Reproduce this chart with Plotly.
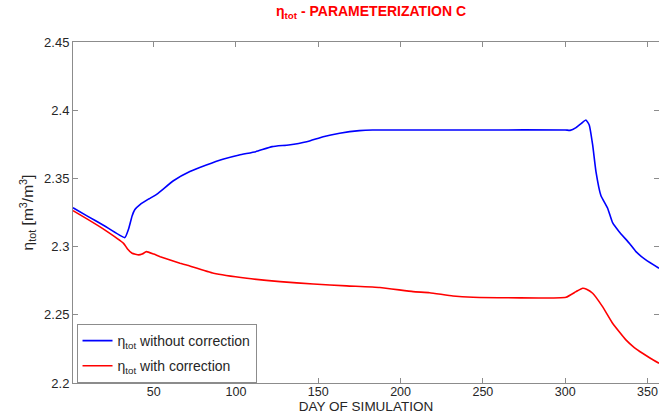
import plotly.graph_objects as go

# day of simulation / eta_tot
days_no_corr = [1, 10, 20, 32.5, 34.9, 36.9, 38.6, 41.9, 47, 52, 62, 72, 82, 92, 102, 112,
                122, 132, 143, 153, 163, 175, 183, 200, 250, 300, 303, 306.6, 310,
                312.6, 314.6, 316.7, 318.7, 321.7, 325.8, 328.8, 332.8, 339, 343, 349, 357]
eta_no_corr = [2.3285, 2.3222, 2.3153, 2.3066, 2.3134, 2.3225, 2.3272, 2.3310, 2.3349, 2.3385,
               2.3483, 2.3550, 2.3598, 2.3640, 2.3672, 2.3696, 2.3733, 2.3745, 2.3769,
               2.3806, 2.3831, 2.3850, 2.3855, 2.3855, 2.3855, 2.3855, 2.3852, 2.3872,
               2.3905, 2.3928, 2.3892, 2.3745, 2.3550, 2.3375, 2.3281, 2.3175, 2.3109,
               2.3024, 2.2963, 2.2902, 2.2841]

days_corr = [1, 10, 20, 31.7, 34, 36.9, 40.9, 43, 45.6, 50, 54, 66, 70, 86.4, 106.6,
             126.8, 147, 167.2, 187.4, 207.6, 217.7, 231.8, 244, 300.5, 306.6, 310.6,
             313, 316.7, 322.7, 328.8, 336.9, 342, 347, 352, 357]
eta_corr = [2.3264, 2.3200, 2.3125, 2.3024, 2.2985, 2.2951, 2.2939, 2.2945, 2.2963,
            2.2945, 2.2926, 2.2878, 2.2865, 2.2805, 2.2768, 2.2743, 2.2726, 2.2712,
            2.2700, 2.2670, 2.2662, 2.2638, 2.2629, 2.2629, 2.2670, 2.2695, 2.2688,
            2.2658, 2.2560, 2.2438, 2.2316, 2.2260, 2.2218, 2.2180, 2.2145]

x_ticks = [50, 100, 150, 200, 250, 300, 350]
y_ticks = [2.2, 2.25, 2.3, 2.35, 2.4, 2.45]
y_ticktext = ["2.2", "2.25", "2.3", "2.35", "2.4", "2.45"]

FONT = "Arial, Liberation Sans, sans-serif"
AXIS_COLOR = "#8c8c8c"
TEXT_COLOR = "#262626"

fig = go.Figure()
fig.add_trace(go.Scatter(x=days_no_corr, y=eta_no_corr, mode="lines",
                         name="η<sub>tot</sub> without correction", legendgroup="a",
                         line=dict(color="#0000ff", width=1.6, shape="spline", smoothing=0.4)))
fig.add_trace(go.Scatter(x=days_corr, y=eta_corr, mode="lines",
                         name="η<sub>tot</sub> with correction", legendgroup="b",
                         line=dict(color="#ff0000", width=1.6, shape="spline", smoothing=0.4)))

fig.update_layout(
    width=659, height=414,
    margin=dict(l=73, r=0, t=42, b=31),
    plot_bgcolor="white", paper_bgcolor="white",
    font=dict(family=FONT, size=13, color=TEXT_COLOR),
    title=dict(text="<b>η<sub>tot</sub> - PARAMETERIZATION C</b>",
               font=dict(family=FONT, size=14, color="#ff0000"),
               x=0.563, xanchor="center", y=0.985, yanchor="top"),
    showlegend=True,
    legend=dict(x=0.006, y=0.173, xanchor="left", yanchor="top",
                bgcolor="white", bordercolor=AXIS_COLOR, borderwidth=1,
                font=dict(family=FONT, size=14, color=TEXT_COLOR),
                itemwidth=30, tracegroupgap=4),
)
fig.update_xaxes(
    range=[1, 357], tickvals=x_ticks, ticks="inside", ticklen=5,
    tickcolor=AXIS_COLOR, showline=True, linecolor=AXIS_COLOR, linewidth=1,
    mirror="ticks", showgrid=False, zeroline=False, tickfont=dict(size=12.5),
    ticklabelstandoff=-3,
    title=dict(text="DAY OF SIMULATION", standoff=0, font=dict(size=13.5)),
)
fig.update_yaxes(
    range=[2.2, 2.45], tickvals=y_ticks, ticktext=y_ticktext, ticks="inside", ticklen=5,
    tickcolor=AXIS_COLOR, showline=True, linecolor=AXIS_COLOR, linewidth=1,
    mirror="ticks", showgrid=False, zeroline=False, tickfont=dict(size=13),
    title=dict(text="η<sub>tot</sub> [m<sup>3</sup>/m<sup>3</sup>]", standoff=6, font=dict(size=15.5)),
)

# page body has a default 8px margin; drop it so the figure fills the window
fig.write_html("out.html", config={"displayModeBar": False},
               post_script="document.body.style.margin='0';")
